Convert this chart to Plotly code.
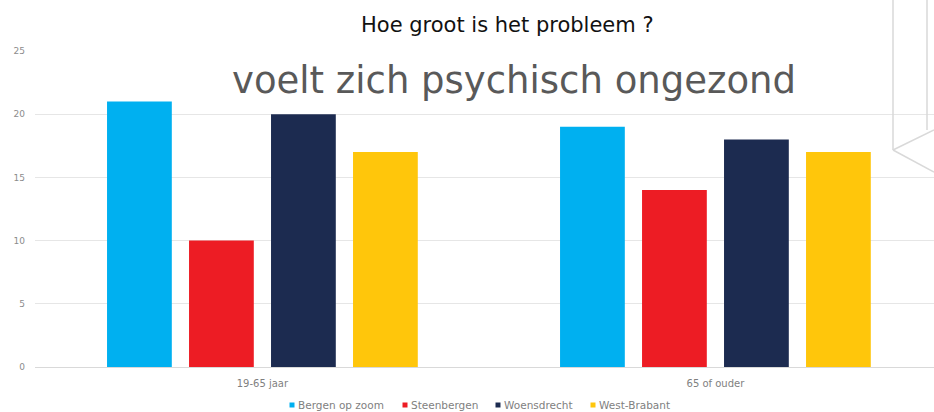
import plotly.graph_objects as go

categories = ["19-65 jaar", "65 of ouder"]
series_names = ["Bergen op zoom", "Steenbergen", "Woensdrecht", "West-Brabant"]
bergen = [21, 19]
steenbergen = [10, 14]
woensdrecht = [20, 18]
westbrabant = [17, 17]
colors = ["#00B0F0", "#ED1C24", "#1C2B50", "#FFC60B"]
y_ticks = [0, 5, 10, 15, 20, 25]

W, H = 934, 412
L, R, T, B = 35, 0, 51, 45

fig = go.Figure()
for name, vals, col in zip(series_names, [bergen, steenbergen, woensdrecht, westbrabant], colors):
    fig.add_trace(go.Bar(x=categories, y=vals, name=name, marker=dict(color=col, line=dict(width=0))))

fig.update_layout(
    width=W, height=H,
    margin=dict(l=L, r=R, t=T, b=B, autoexpand=False),
    paper_bgcolor="white", plot_bgcolor="white",
    barmode="group", bargap=0.276, bargroupgap=0.21,
    showlegend=False,
    font=dict(family="DejaVu Sans"),
)
fig.update_xaxes(range=[-0.502, 1.4825], showgrid=False, showline=False, zeroline=False,
                 tickfont=dict(family="DejaVu Sans", size=10, color="#7F7F7F"), ticks="",
                 ticklabelstandoff=9)
fig.update_yaxes(range=[0, 25], tickvals=y_ticks, showgrid=True, gridcolor="#E6E6E6", gridwidth=1,
                 zeroline=True, zerolinecolor="#D9D9D9", zerolinewidth=1, showline=False,
                 tickfont=dict(family="DejaVu Sans", size=9, color="#8C8C8C"), ticks="",
                 ticklabelstandoff=9)

def px(xp, yp):
    return (xp - L) / (W - L - R), (H - B - yp) / (H - T - B)

# titles
tx, ty = px(507, 25)
fig.add_annotation(text="Hoe groot is het probleem ?", xref="paper", yref="paper",
                   x=tx, y=ty, xanchor="center", yanchor="middle",
                   showarrow=False, font=dict(family="DejaVu Sans", size=21, color="#111111"))
sx, sy = px(514, 80)
fig.add_annotation(text="voelt zich psychisch ongezond", xref="paper", yref="paper",
                   x=sx, y=sy, xanchor="center", yanchor="middle",
                   showarrow=False, font=dict(family="DejaVu Sans", size=37, color="#595959"))

# custom legend: small squares + labels
legend_sym_x = [292, 405, 498, 593]
legend_y = 405
for name, col, xs in zip(series_names, colors, legend_sym_x):
    x0, y0 = px(xs - 2.5, legend_y + 2.5)
    x1, y1 = px(xs + 2.5, legend_y - 2.5)
    fig.add_shape(type="rect", xref="paper", yref="paper", x0=x0, y0=y0, x1=x1, y1=y1,
                  fillcolor=col, line=dict(width=0))
    lx, ly = px(xs + 4, legend_y)
    fig.add_annotation(text=name, xref="paper", yref="paper", x=lx, y=ly,
                       xanchor="left", yanchor="middle", showarrow=False,
                       font=dict(family="DejaVu Sans", size=10.5, color="#7F7F7F"))

# decorative lines at top right (pixel coords)
segs = [((893, -5), (893, 150)), ((927, -5), (927, 130)), ((893, 150), (934, 130)), ((893, 150), (934, 172))]
for (a, b) in segs:
    x0, y0 = px(*a)
    x1, y1 = px(*b)
    fig.add_shape(type="line", xref="paper", yref="paper", x0=x0, y0=y0, x1=x1, y1=y1,
                  line=dict(color="#D9D9D9", width=1.5), layer="above")

fig.write_html("out.html")
